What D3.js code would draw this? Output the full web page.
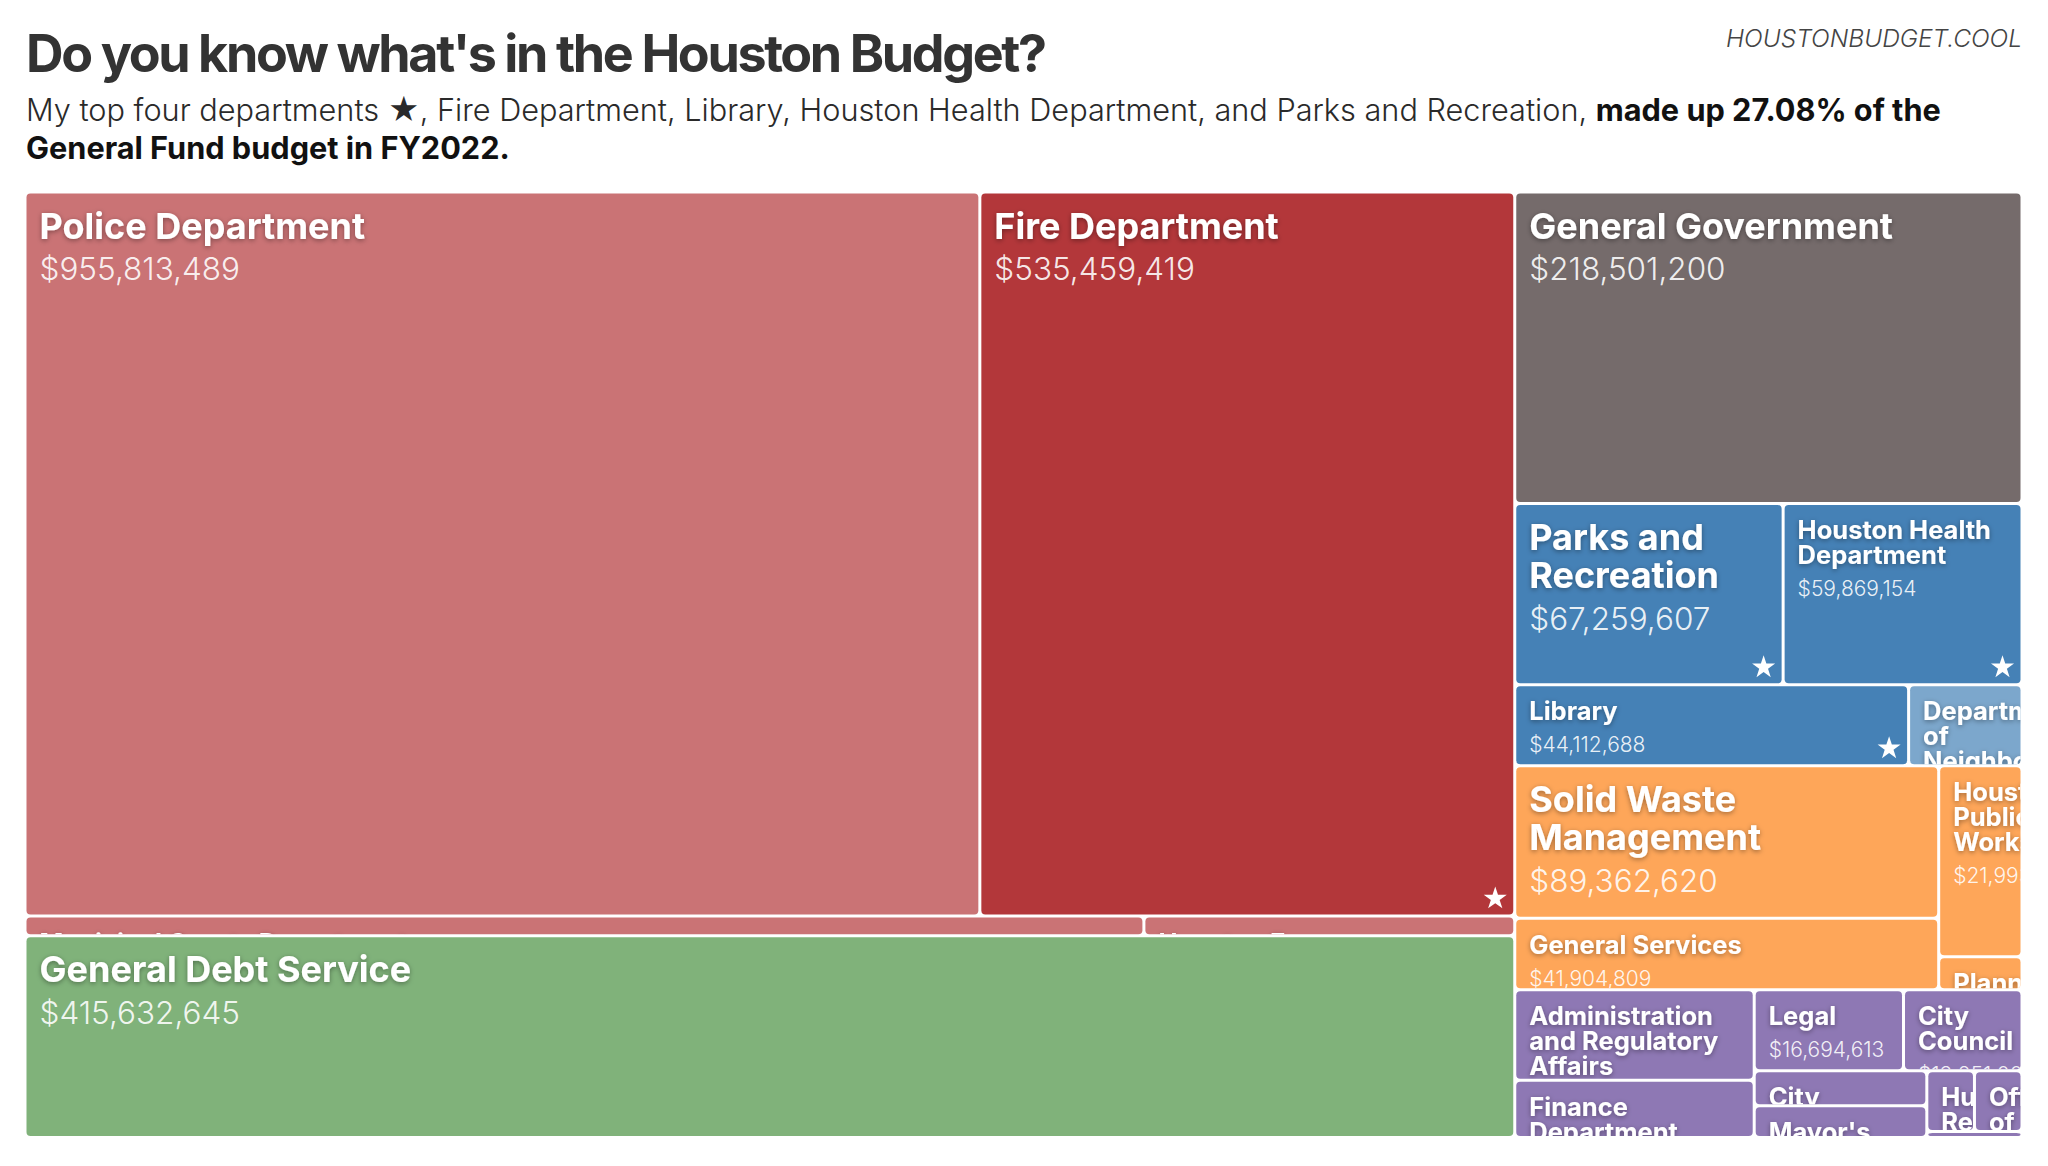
<!DOCTYPE html>
<html>
<head>
<meta charset="utf-8">
<script src="https://cdn.jsdelivr.net/npm/d3@7"></script>
<style>
  body { margin: 0; background: #fff; }
  svg { display: block; }
</style>
</head>
<body>
<svg id="chart" width="2048" height="1166"></svg>
<script>
// ---------------- DATA ----------------
const groupNames = ["Public Safety", "Debt Service", "General Government", "Culture and Health", "Development and Services", "Administration"];

const departments = [
  "Police Department", "Fire Department", "Municipal Courts Department", "Houston Emergency Center",
  "General Debt Service",
  "General Government",
  "Parks and Recreation", "Houston Health Department", "Library", "Department of Neighborhoods",
  "Solid Waste Management", "General Services", "Houston Public Works", "Planning and Development",
  "Administration and Regulatory Affairs", "Finance Department", "Legal", "City Council", "City Controller",
  "Mayor's Office", "Human Resources", "Office of Business Opportunity", "City Secretary"
];

const budgets = [
  955813489, 535459419, 30412000, 10080000,
  415632645,
  218501200,
  67259607, 59869154, 44112688, 12700000,
  89362620, 41904809, 21993000, 3800000,
  29940000, 18950000, 16694613, 13251000, 8380000,
  7560000, 4000000, 3990000, 800000
];

const departmentGroup = [
  0, 0, 0, 0,
  1,
  2,
  3, 3, 3, 3,
  4, 4, 4, 4,
  5, 5, 5, 5, 5,
  5, 5, 5, 5
];

const myTopFour = ["Fire Department", "Library", "Houston Health Department", "Parks and Recreation"];

// ---------------- STYLE ----------------
const groupColors = ["#b3373a", "#4a9141", "#3a2c2c", "#4581b6", "#fe8013", "#5e3e94"];
const X0 = 25, X1 = 2022, Y0 = 192, Y1 = 1137.5;
const INSET = 1.5;
const FONT = "Inter, 'Noto Sans', 'DejaVu Sans', sans-serif";

const svg = d3.select("#chart");

const defs = svg.append("defs");
const f = defs.append("filter").attr("id", "tshadow")
  .attr("x", "-20%").attr("y", "-40%").attr("width", "140%").attr("height", "180%");
f.append("feDropShadow").attr("dx", 0).attr("dy", 1.5).attr("stdDeviation", 2.5)
  .attr("flood-color", "#000").attr("flood-opacity", 0.38);

// ---------------- HEADER ----------------
const title = svg.append("text")
  .attr("x", 26).attr("y", 72)
  .attr("font-family", FONT).attr("font-weight", 700).attr("font-size", 52)
  .attr("fill", "#333")
  .text("Do you know what's in the Houston Budget?");
(function fitTitle() {
  const n = title.text().length;
  const w = title.node().getComputedTextLength();
  title.attr("letter-spacing", ((1021 - w) / (n - 1)).toFixed(2));
})();

const brand = svg.append("text")
  .attr("x", 2022).attr("y", 47).attr("text-anchor", "end")
  .attr("font-family", FONT).attr("font-style", "italic").attr("font-weight", 300)
  .attr("font-size", 22).attr("fill", "#444")
  .text("HOUSTONBUDGET.COOL");
(function fitBrand() {
  const w = brand.node().getComputedTextLength();
  brand.attr("font-size", (22 * 296 / w).toFixed(2));
})();

const sub1 = svg.append("text")
  .attr("x", 26).attr("y", 120.5)
  .attr("font-family", FONT).attr("font-size", 29).attr("fill", "#2a2a2a");
sub1.append("tspan").attr("font-weight", 300)
  .text("My top four departments ★, " + myTopFour[0] + ", " + myTopFour[1] + ", " + myTopFour[2] + ", and " + myTopFour[3] + ", ");
sub1.append("tspan").attr("font-weight", 700).attr("fill", "#111").text("made up 27.08% of the");
let subSize = 29;
(function fitSub() {
  const w = sub1.node().getComputedTextLength();
  subSize = 29 * 1915 / w;
  sub1.attr("font-size", subSize.toFixed(2));
})();
svg.append("text")
  .attr("x", 26).attr("y", 159)
  .attr("font-family", FONT).attr("font-size", subSize.toFixed(2)).attr("font-weight", 700)
  .attr("fill", "#111")
  .text("General Fund budget in FY2022.");

// ---------------- TREEMAP ----------------
const tree = {
  name: "General Fund",
  children: groupNames.map((g, gi) => ({
    name: g, group: gi,
    children: departments
      .map((d, i) => ({ name: d, value: budgets[i], group: departmentGroup[i] }))
      .filter(d => d.group === gi)
  }))
};

const root = d3.hierarchy(tree)
  .sum(d => d.value || 0)
  .sort((a, b) => b.value - a.value);

d3.treemap().tile(d3.treemapSquarify).size([1000, 1000])(root);

const xs = d3.scaleLinear().domain([0, 1000]).range([X0, X1]);
const ys = d3.scaleLinear().domain([0, 1000]).range([Y0, Y1]);
const money = v => "$" + d3.format(",")(v);

// measuring helper
const meas = svg.append("text").attr("font-family", FONT).attr("font-weight", 700)
  .attr("visibility", "hidden").attr("x", -1000).attr("y", -1000);
function textWidth(s, size) {
  meas.attr("font-size", size).text(s);
  return meas.node().getComputedTextLength();
}
function wrap(name, size, maxW) {
  const words = name.split(" ");
  const lines = [];
  let line = "";
  for (const w of words) {
    const test = line ? line + " " + w : w;
    if (line && textWidth(test, size) > maxW) { lines.push(line); line = w; }
    else line = test;
  }
  if (line) lines.push(line);
  return lines;
}

const leaves = root.leaves();
const tiles = svg.append("g").attr("class", "tiles");

leaves.forEach((d, i) => {
  const bx0 = xs(d.x0) + INSET, bx1 = xs(d.x1) - INSET;
  const by0 = ys(d.y0) + INSET, by1 = ys(d.y1) - INSET;
  const w = Math.max(0, bx1 - bx0), h = Math.max(0, by1 - by0);
  const starred = myTopFour.includes(d.data.name);
  const color = groupColors[d.data.group];

  defs.append("clipPath").attr("id", "clip-" + i)
    .append("rect").attr("x", bx0).attr("y", by0).attr("width", w).attr("height", h).attr("rx", 4);

  const g = tiles.append("g");
  g.append("rect")
    .attr("x", bx0).attr("y", by0).attr("width", w).attr("height", h)
    .attr("rx", 4).attr("ry", 4)
    .attr("fill", color)
    .attr("fill-opacity", starred ? 1 : 0.7);

  const big = d.value >= 62e6;
  const nameSize = big ? 36 : 25.5;
  const valueSize = big ? 31.5 : 21;
  const lineH = big ? 38 : 25;
  const firstBase = big ? 45 : 34;
  const valueGap = big ? 41.5 : 32;
  const padX = 13;

  const lines = wrap(d.data.name, nameSize, w - 2 * padX);
  const tg = g.append("g").attr("clip-path", "url(#clip-" + i + ")");
  lines.forEach((ln, k) => {
    tg.append("text")
      .attr("x", bx0 + padX).attr("y", by0 + firstBase + k * lineH)
      .attr("font-family", FONT).attr("font-weight", 700).attr("font-size", nameSize)
      .attr("fill", "#fff").attr("filter", "url(#tshadow)")
      .text(ln);
  });
  tg.append("text")
    .attr("x", bx0 + padX).attr("y", by0 + firstBase + (lines.length - 1) * lineH + valueGap)
    .attr("font-family", FONT).attr("font-weight", 300).attr("font-size", valueSize)
    .attr("fill", "#fff").attr("fill-opacity", 0.9)
    .text(money(d.value));

  if (starred) {
    g.append("path")
      .attr("d", d3.symbol(d3.symbolStar, 165)())
      .attr("transform", "translate(" + (bx1 - 18) + "," + (by1 - 16) + ")")
      .attr("fill", "#fff");
  }
});
meas.remove();
</script>
</body>
</html>
